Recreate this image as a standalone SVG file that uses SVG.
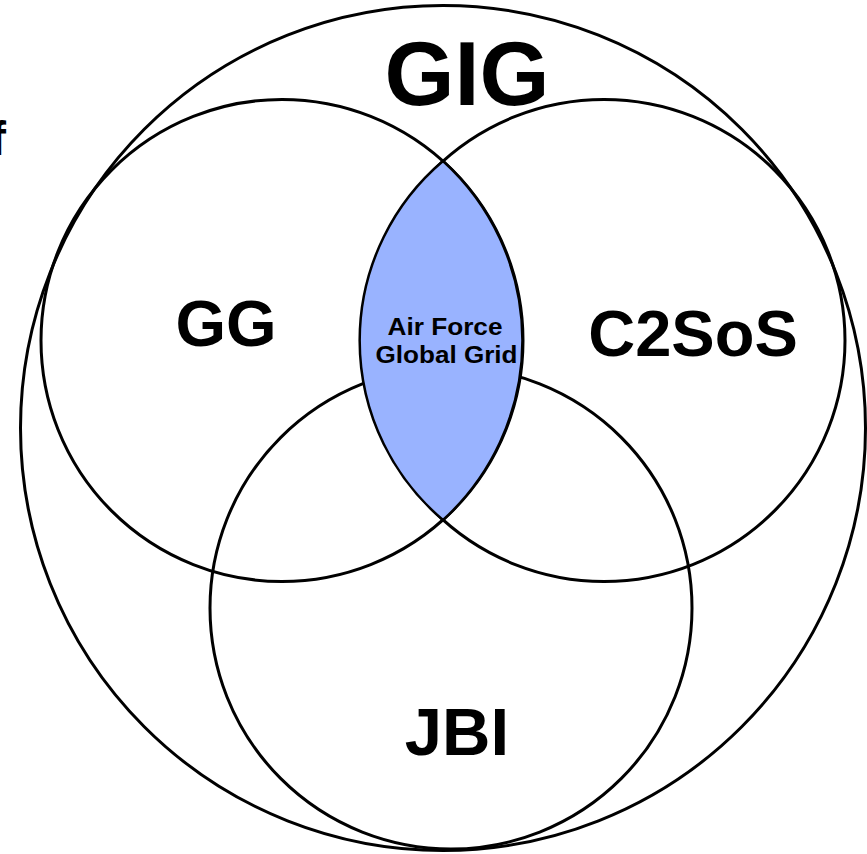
<svg xmlns="http://www.w3.org/2000/svg" width="867" height="854" viewBox="0 0 867 854">
<style>
.ring{fill:none;stroke:#000;stroke-width:3}
.lbl{font-family:"Liberation Sans",Arial,sans-serif;font-weight:bold;fill:#000;text-anchor:middle}
</style>
<rect x="0" y="0" width="867" height="854" fill="#fff"/>
<text class="lbl" x="-10" y="155" style="text-anchor:start" font-size="48">f</text>
<g id="gig">
<circle class="ring" cx="443" cy="428" r="422.5"/>
<text class="lbl" x="467" y="105" font-size="90">GIG</text>
</g>
<g id="gg">
<circle class="ring" cx="282" cy="340.5" r="241"/>
<text class="lbl" x="226" y="346" font-size="65">GG</text>
</g>
<g id="c2sos">
<circle class="ring" cx="604" cy="340.5" r="241"/>
<text class="lbl" x="693" y="356" font-size="65">C2SoS</text>
</g>
<g id="jbi">
<circle class="ring" cx="451" cy="608" r="241"/>
<text class="lbl" x="457" y="755" font-size="67">JBI</text>
</g>
<g id="afgg">
<path d="M443,161 A242.5,242.5 0 0 1 443,520 A235,235 0 0 1 443,161 Z" fill="#99b3ff" stroke="#000" stroke-width="2.5"/>
<text class="lbl" x="445" y="335" font-size="23" textLength="115" lengthAdjust="spacingAndGlyphs">Air Force</text>
<text class="lbl" x="446.5" y="363" font-size="23" textLength="142" lengthAdjust="spacingAndGlyphs">Global Grid</text>
</g>
<g id="connectors"></g>
</svg>
